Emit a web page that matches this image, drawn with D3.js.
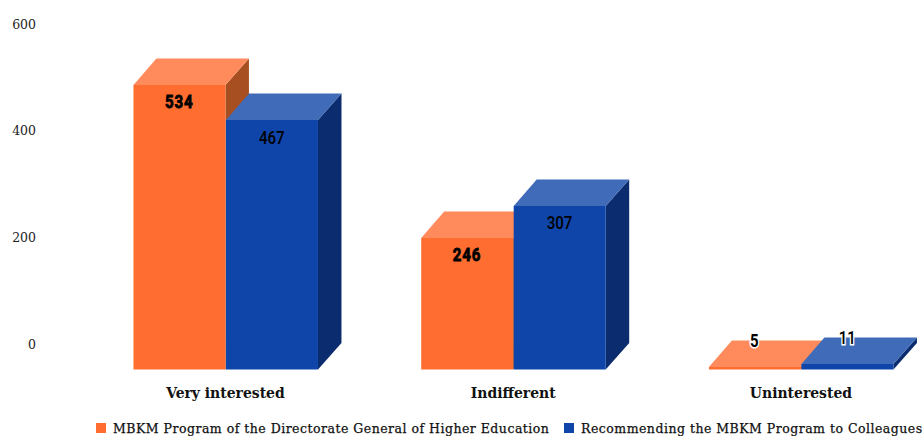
<!DOCTYPE html>
<html>
<head>
<meta charset="utf-8">
<script src="https://cdn.jsdelivr.net/npm/d3@7"></script>
<style>
  html, body { margin: 0; padding: 0; background: #fff; }
  svg { display: block; }
  text { fill: #111; }
  .serif { font-family: "DejaVu Serif", serif; }
</style>
</head>
<body>
<div id="chart"></div>
<script>
const categories = ["Very interested", "Indifferent", "Uninterested"];
const seriesNames = [
  "MBKM Program of the Directorate General of Higher Education",
  "Recommending the MBKM Program to Colleagues"
];
const programValues = [534, 246, 5];
const recommendValues = [467, 307, 11];
const yTicks = [0, 200, 400, 600];

const width = 922;
const height = 436;
const depth = {x: 23.5, y: 26.5};

const colors = [
  {front: "#ff6d31", top: "#ff8a5b", side: "#a84f21"},
  {front: "#0f45a9", top: "#3f6bb8", side: "#0b2c6e"}
];

const svg = d3.select("#chart")
  .append("svg")
  .attr("width", width)
  .attr("height", height)
  .attr("viewBox", [0, 0, width, height]);

const y = d3.scaleLinear().domain([0, 600]).range([369.5, 49.5]);
// whole pixels keep the front and top faces from leaving a pale seam
const yPx = v => Math.round(y(v));

const x0 = d3.scaleBand()
  .domain(categories)
  .range([81.6, 944.8])
  .paddingInner(0.357)
  .paddingOuter(0.1785);

const x1 = d3.scaleBand()
  .domain([0, 1])
  .range([0, x0.bandwidth()]);

// Eixo Vertical, pushed back to the rear plane of the bars
const yAxis = svg.append("g")
  .attr("transform", "translate(36," + (1 - depth.y) + ")")
  .call(d3.axisLeft(y).tickValues(yTicks).tickSize(0).tickPadding(0));
yAxis.select(".domain").remove();
yAxis.selectAll("text")
  .attr("class", "serif")
  .style("font-size", "12.5px")
  .style("fill", "#222");

// Eixo Horizontal
const xAxis = svg.append("g")
  .attr("transform", "translate(0,393)")
  .call(d3.axisBottom(x0).tickSize(0).tickPadding(0));
xAxis.select(".domain").remove();
xAxis.selectAll("text")
  .attr("dy", "0.35em")
  .attr("y", 0)
  .style("font-family", '"DejaVu Serif Condensed", "DejaVu Serif", serif')
  .style("font-size", "15.5px")
  .style("font-weight", "bold")
  .style("fill", "#111");

const bars = categories.flatMap((c, i) => [
  {category: c, series: 0, value: programValues[i]},
  {category: c, series: 1, value: recommendValues[i]}
]);

const barG = svg.append("g")
  .selectAll("g")
  .data(bars)
  .join("g")
    .attr("transform", d => "translate(" + (x0(d.category) + x1(d.series)) + ",0)");

const w = x1.bandwidth();

barG.append("path")
  .attr("fill", d => colors[d.series].side)
  .attr("d", d => d3.line()([
    [w, yPx(d.value)], [w + depth.x, yPx(d.value) - depth.y],
    [w + depth.x, y(0) - depth.y], [w, y(0)]
  ]) + "Z");

barG.append("path")
  .attr("fill", d => colors[d.series].top)
  .attr("d", d => d3.line()([
    [0.5, yPx(d.value)], [depth.x, yPx(d.value) - depth.y],
    [w + depth.x, yPx(d.value) - depth.y], [w, yPx(d.value)]
  ]) + "Z");

barG.append("rect")
  .attr("fill", d => colors[d.series].front)
  .attr("x", 0.5)
  .attr("y", d => yPx(d.value))
  .attr("width", w - 0.5)
  .attr("height", d => y(0) - yPx(d.value));

// value labels: inside the front face, or above the back edge when the bar is too short
const isShort = d => y(0) - y(d.value) < 30;

// digits are narrowed horizontally to get the tall condensed look
svg.append("g")
  .selectAll("text")
  .data(bars)
  .join("text")
    .attr("transform", d => "translate(" + (x0(d.category) + x1(d.series) + w / 2) + ","
      + (isShort(d) ? y(d.value) - 26 : y(d.value) + 17) + ") scale(0.86,1)")
    .attr("dy", "0.35em")
    .attr("text-anchor", "middle")
    .style("font-family", "Roboto, sans-serif")
    .style("font-size", "17.5px")
    .style("font-weight", d => d.series === 0 ? "bold" : "500")
    .style("letter-spacing", d => d.series === 0 ? "1px" : "0")
    .style("fill", "#000")
    .style("paint-order", "stroke")
    .style("stroke", d => isShort(d) ? "#fff" : d.series === 0 ? "#000" : "none")
    .style("stroke-width", d => isShort(d) ? 3 : 0.8)
    .text(d => d.value);

// Legend
const legendSpots = [96, 564];
const legend = svg.append("g")
  .selectAll("g")
  .data(seriesNames)
  .join("g")
    .attr("transform", (d, i) => "translate(" + legendSpots[i] + ",428)");

legend.append("rect")
  .attr("x", 0)
  .attr("y", -5)
  .attr("width", 10)
  .attr("height", 10)
  .attr("fill", (d, i) => colors[i].front);

legend.append("text")
  .attr("class", "serif")
  .attr("x", 17)
  .attr("y", 1)
  .attr("dy", "0.35em")
  .style("font-size", "12.5px")
  .style("letter-spacing", "0.49px")
  .style("fill", "#111")
  .style("stroke", "#111")
  .style("stroke-width", 0.25)
  .text(d => d);
</script>
</body>
</html>
